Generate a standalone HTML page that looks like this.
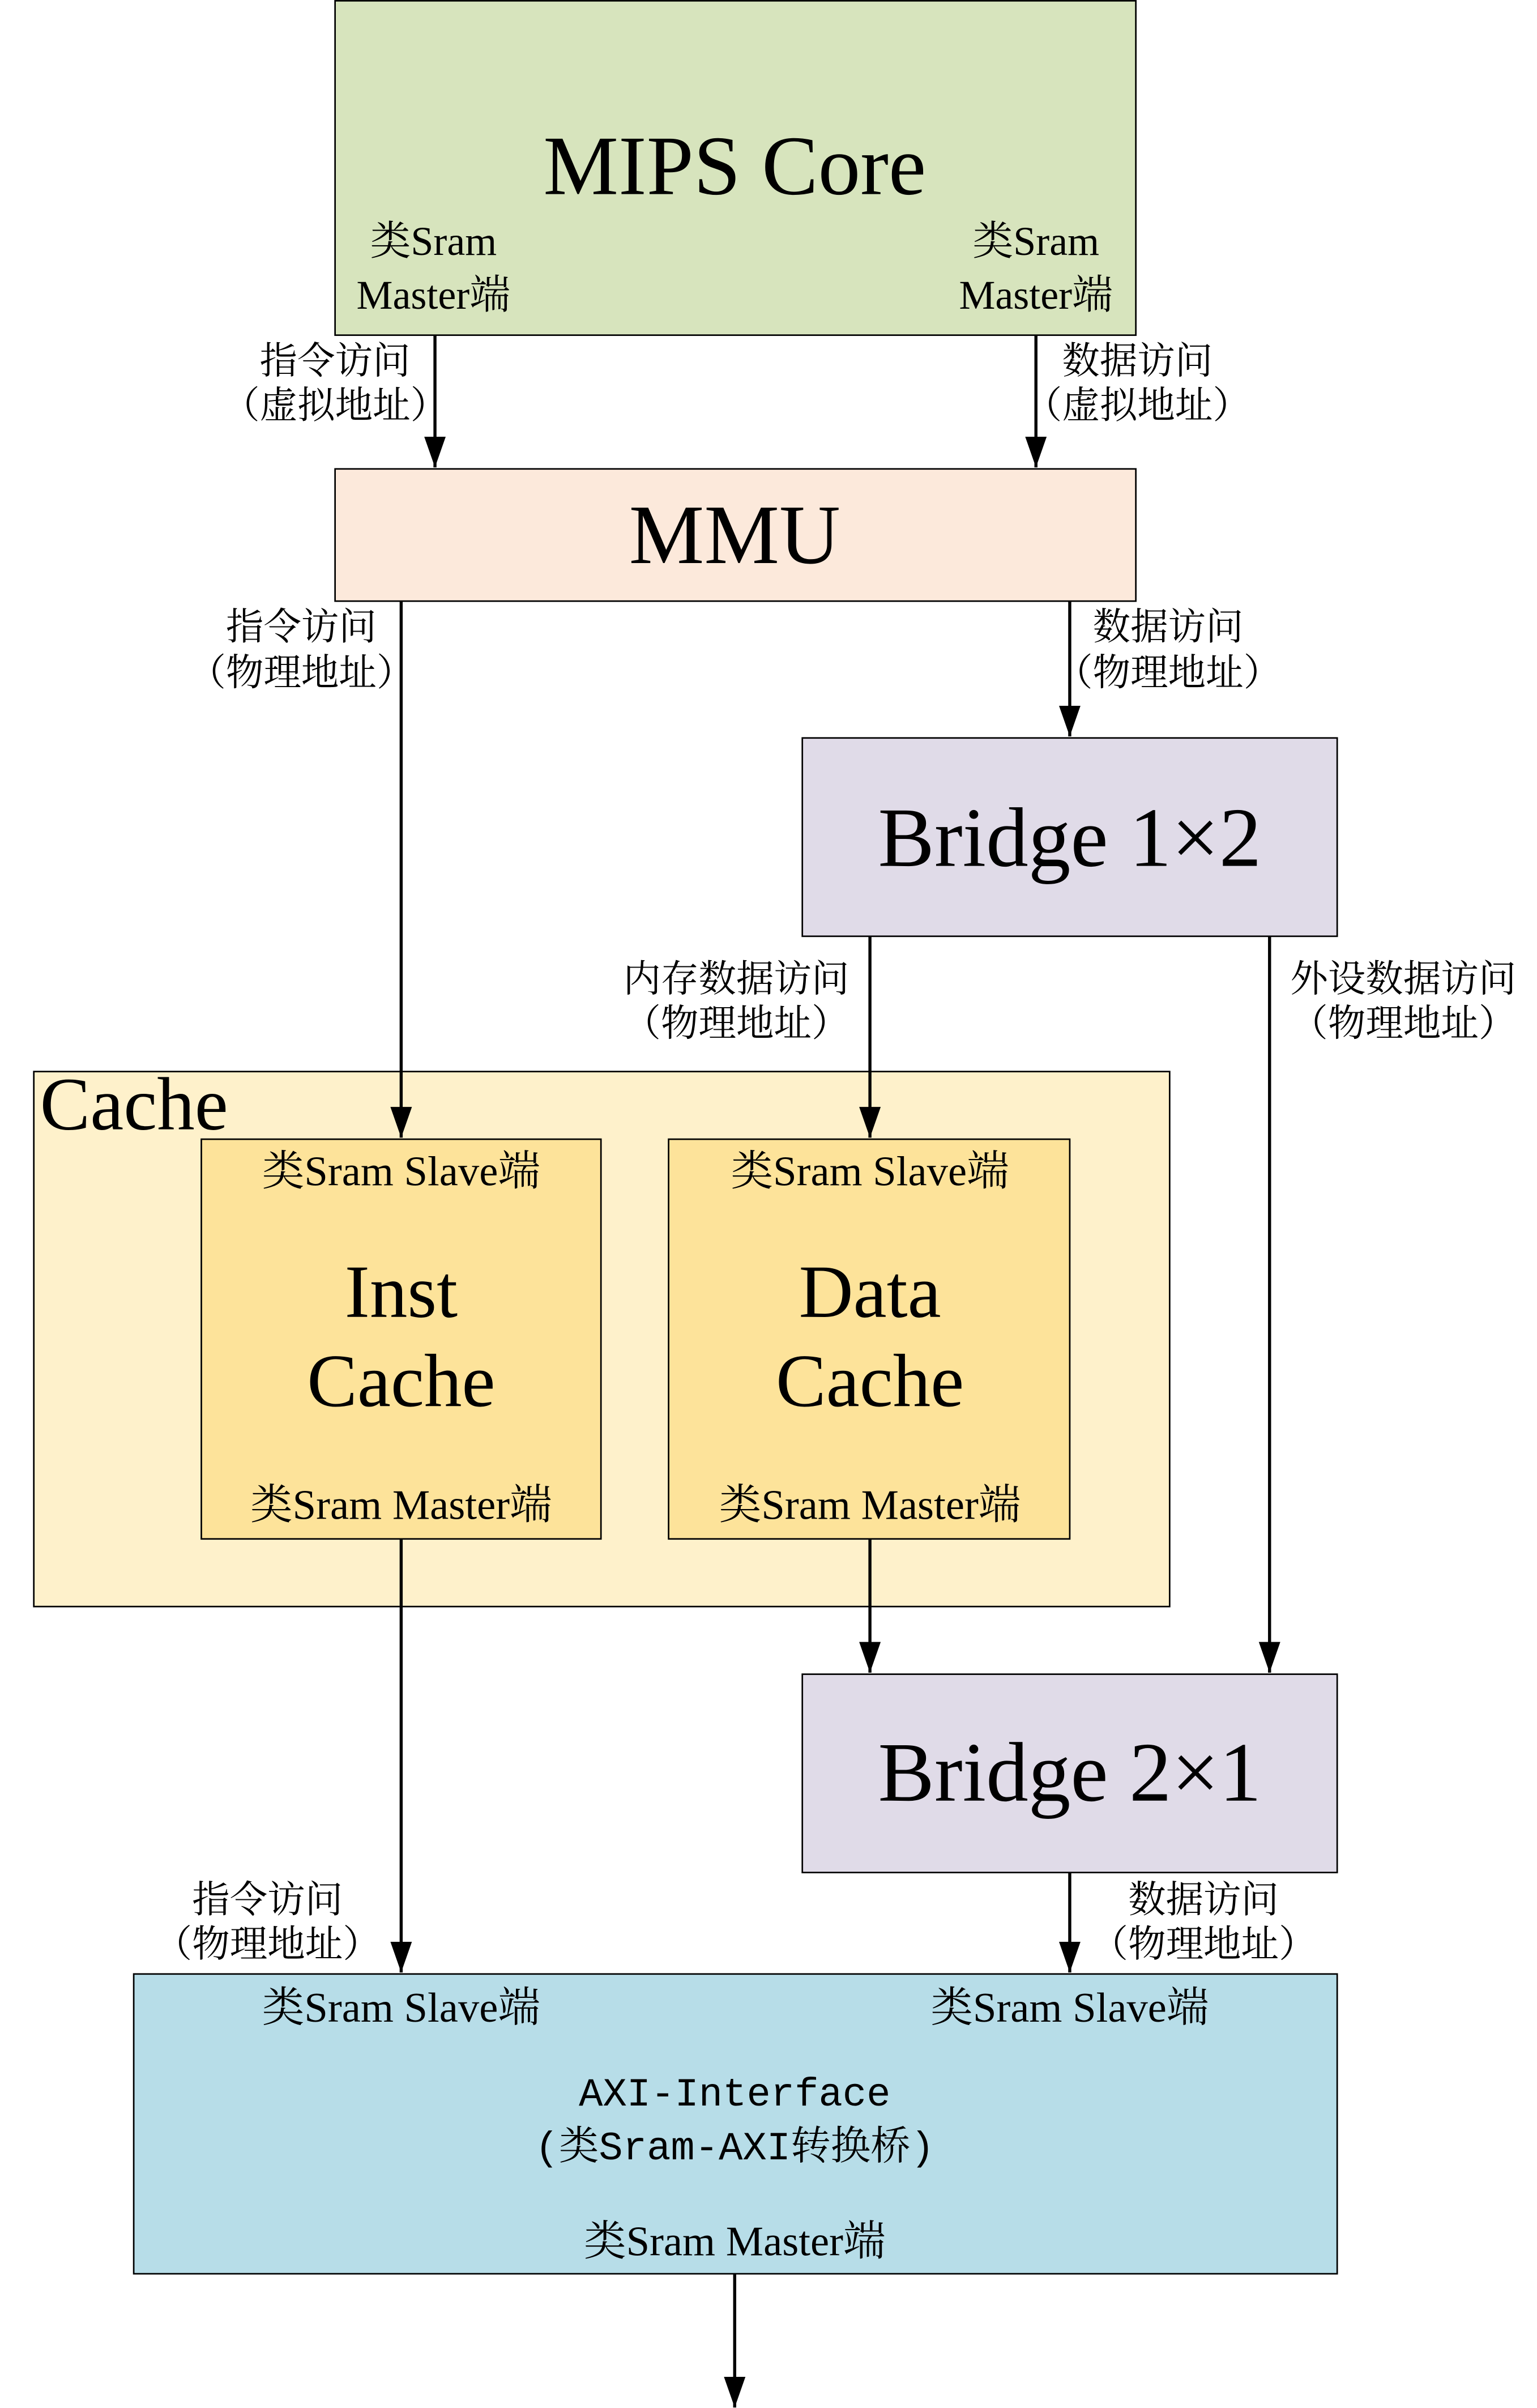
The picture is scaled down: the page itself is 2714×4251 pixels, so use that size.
<!DOCTYPE html>
<html><head><meta charset="utf-8"><style>
html,body{margin:0;padding:0;background:#fff;}
svg{display:block;}
text{font-family:"Liberation Serif","Noto Serif CJK SC",serif;fill:#000;}
.m{font-family:"Liberation Mono","Noto Serif CJK SC",monospace;}
</style></head><body>
<svg width="2714" height="4251" viewBox="0 0 1000 1566.3" xmlns="http://www.w3.org/2000/svg">
<defs>
<marker id="b" viewBox="0 0 20 20" refX="20" refY="10" markerWidth="20" markerHeight="20" orient="auto" markerUnits="userSpaceOnUse"><path d="M0,3 L20,10 L0,17 z" fill="#000"/></marker></defs>
<g stroke="#000" stroke-width="1">
<rect x="218" y="0.5" width="521" height="217.5" fill="#d7e4bd"/>
<rect x="218" y="305" width="521" height="86" fill="#fce9db"/>
<rect x="522" y="480" width="348" height="129" fill="#e0dbe8"/>
<rect x="22" y="697" width="739" height="348" fill="#fef1cb"/>
<rect x="131" y="741" width="260" height="260" fill="#fde39a"/>
<rect x="435" y="741" width="261" height="260" fill="#fde39a"/>
<rect x="522" y="1089" width="348" height="129" fill="#e0dbe8"/>
<rect x="87" y="1284" width="783" height="195" fill="#b7dde8"/>
</g>
<g stroke="#000" stroke-width="2" fill="none" marker-end="url(#b)">
<line x1="283" y1="218" x2="283" y2="304"/>
<line x1="674" y1="218" x2="674" y2="304"/>
<line x1="261" y1="391" x2="261" y2="740"/>
<line x1="696" y1="391" x2="696" y2="479"/>
<line x1="566" y1="609" x2="566" y2="740"/>
<line x1="826" y1="609" x2="826" y2="1088"/>
<line x1="261" y1="1001" x2="261" y2="1283"/>
<line x1="566" y1="1001" x2="566" y2="1088"/>
<line x1="696" y1="1218" x2="696" y2="1283"/>
<line x1="478" y1="1479" x2="478" y2="1566"/>
</g>
<g text-anchor="middle" dominant-baseline="central">
<text x="478" y="108" font-size="55">MIPS Core</text>
<text x="282" y="157" font-size="26.5">类Sram</text>
<text x="282" y="192" font-size="26.5">Master端</text>
<text x="674" y="157" font-size="26.5">类Sram</text>
<text x="674" y="192" font-size="26.5">Master端</text>
<text x="218" y="235" font-size="24.5">指令访问</text>
<text x="218" y="264" font-size="24.5">（虚拟地址）</text>
<text x="740" y="235" font-size="24.5">数据访问</text>
<text x="740" y="264" font-size="24.5">（虚拟地址）</text>
<text x="478" y="348" font-size="55">MMU</text>
<text x="196" y="408" font-size="24.5">指令访问</text>
<text x="196" y="438" font-size="24.5">（物理地址）</text>
<text x="760" y="408" font-size="24.5">数据访问</text>
<text x="760" y="438" font-size="24.5">（物理地址）</text>
<text x="696" y="545" font-size="55">Bridge 1×2</text>
<text x="479" y="637" font-size="24.5">内存数据访问</text>
<text x="479" y="666" font-size="24.5">（物理地址）</text>
<text x="913" y="637" font-size="24.5">外设数据访问</text>
<text x="913" y="666" font-size="24.5">（物理地址）</text>
<text x="261" y="762" font-size="27.5">类Sram Slave端</text>
<text x="261" y="840" font-size="49">Inst</text>
<text x="261" y="898" font-size="49">Cache</text>
<text x="261" y="979" font-size="27.5">类Sram Master端</text>
<text x="566" y="762" font-size="27.5">类Sram Slave端</text>
<text x="566" y="840" font-size="49">Data</text>
<text x="566" y="898" font-size="49">Cache</text>
<text x="566" y="979" font-size="27.5">类Sram Master端</text>
<text x="696" y="1153" font-size="55">Bridge 2×1</text>
<text x="174" y="1236" font-size="24.5">指令访问</text>
<text x="174" y="1265" font-size="24.5">（物理地址）</text>
<text x="783" y="1236" font-size="24.5">数据访问</text>
<text x="783" y="1265" font-size="24.5">（物理地址）</text>
<text x="261" y="1306" font-size="27.5">类Sram Slave端</text>
<text x="696" y="1306" font-size="27.5">类Sram Slave端</text>
<text x="478" y="1363" font-size="26" class="m">AXI-Interface</text>
<text x="478" y="1398" font-size="26" class="m">(类Sram-AXI转换桥)</text>
<text x="478" y="1458" font-size="27.5">类Sram Master端</text>
</g>
<text x="26" y="718" font-size="49" dominant-baseline="central">Cache</text>
</svg>
</body></html>
